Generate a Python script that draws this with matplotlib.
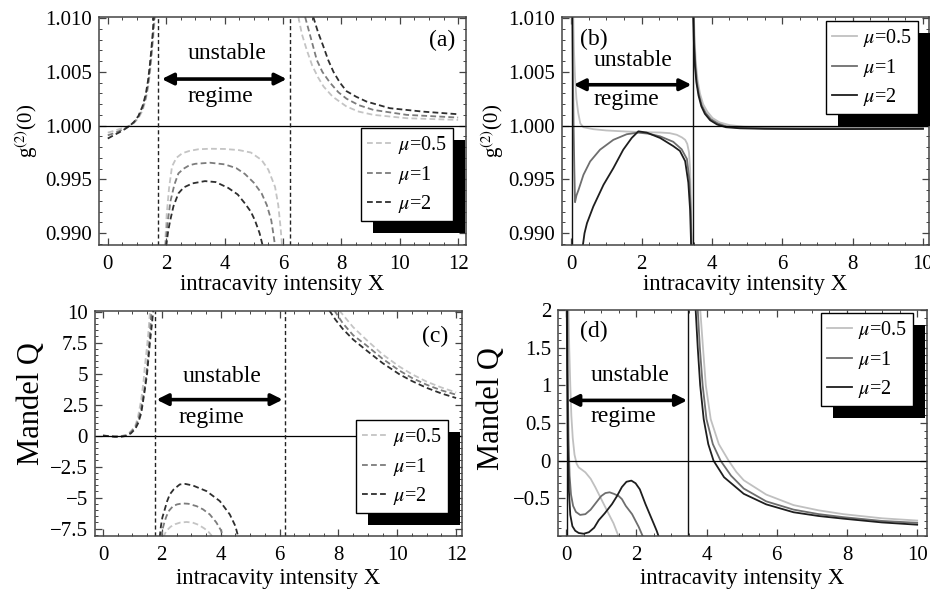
import matplotlib
matplotlib.use('Agg')
import matplotlib.pyplot as plt
from matplotlib.patches import Rectangle
from matplotlib.lines import Line2D
from matplotlib.ticker import MultipleLocator

plt.rcParams['font.family'] = ['Liberation Serif', 'DejaVu Serif']
plt.rcParams['mathtext.fontset'] = 'stix'

# ---------------- data ----------------
series_labels = [r'$\mu$=0.5', r'$\mu$=1', r'$\mu$=2']
x_label = 'intracavity intensity X'

# panel (a): g2(0), dashed curves
a05_L_x = [0.0, 0.2, 0.4, 0.6, 0.76, 0.9, 1.05, 1.19, 1.3, 1.38, 1.45, 1.5, 1.56, 1.62]
a05_L_y = [0.99935, 0.9995, 0.99968, 0.99985, 1.0, 1.00025, 1.0007, 1.0014, 1.0024, 1.0035, 1.0050, 1.0064, 1.0082, 1.0102]
a1_L_x = [0.0, 0.2, 0.4, 0.6, 0.76, 0.9, 1.05, 1.19, 1.3, 1.38, 1.45, 1.5, 1.55, 1.6]
a1_L_y = [0.9991, 0.99928, 0.9995, 0.99975, 1.0, 1.0003, 1.0008, 1.0016, 1.0026, 1.0038, 1.0054, 1.0068, 1.0085, 1.0102]
a2_L_x = [0.0, 0.2, 0.4, 0.6, 0.76, 0.9, 1.05, 1.19, 1.3, 1.38, 1.44, 1.49, 1.54, 1.58]
a2_L_y = [0.9988, 0.9991, 0.99938, 0.9997, 1.0, 1.00035, 1.0009, 1.0018, 1.0029, 1.0042, 1.0056, 1.0070, 1.0086, 1.0102]

a05_M_x = [1.96, 2.02, 2.1, 2.2, 2.35, 2.55, 2.8, 3.1, 3.5, 4.0, 4.5, 4.9, 5.27, 5.5, 5.73, 5.84, 5.92, 5.97]
a05_M_y = [0.9888, 0.9918, 0.9942, 0.9962, 0.9970, 0.99743, 0.99765, 0.9978, 0.99785, 0.99783, 0.99772, 0.9975, 0.9968, 0.9959, 0.9943, 0.9926, 0.9905, 0.9888]
a1_M_x = [1.98, 2.05, 2.15, 2.28, 2.42, 2.6, 2.8, 3.0, 3.5, 4.0, 4.4, 4.7, 5.0, 5.27, 5.45, 5.6, 5.68, 5.73]
a1_M_y = [0.9888, 0.991, 0.993, 0.9945, 0.99556, 0.996, 0.99632, 0.99645, 0.99655, 0.9964, 0.99605, 0.9955, 0.9947, 0.9937, 0.9926, 0.9912, 0.9898, 0.9888]
a2_M_x = [2.0, 2.07, 2.14, 2.25, 2.42, 2.6, 2.9, 3.33, 3.7, 4.13, 4.45, 4.7, 4.9, 5.04, 5.2, 5.31]
a2_M_y = [0.9888, 0.9902, 0.9912, 0.9925, 0.9937, 0.99425, 0.99463, 0.99484, 0.99475, 0.9942, 0.9936, 0.99276, 0.992, 0.9912, 0.99, 0.9888]

a05_R_x = [6.53, 6.65, 6.82, 7.0, 7.2, 7.39, 7.7, 8.18, 8.6, 9.1, 10.24, 12.0]
a05_R_y = [1.0101, 1.0085, 1.007, 1.0056, 1.0045, 1.00364, 1.0027, 1.00177, 1.0013, 1.001, 1.00069, 1.00053]
a1_R_x = [6.76, 6.9, 7.0, 7.16, 7.35, 7.61, 7.9, 8.18, 8.6, 9.1, 10.24, 12.0]
a1_R_y = [1.0101, 1.0087, 1.0077, 1.0061, 1.005, 1.004, 1.0031, 1.0025, 1.0019, 1.00146, 1.001, 1.00075]
a2_R_x = [7.04, 7.2, 7.38, 7.55, 7.73, 7.95, 8.18, 8.5, 8.86, 9.66, 10.8, 12.0]
a2_R_y = [1.0101, 1.0087, 1.0074, 1.0061, 1.005, 1.004, 1.0032, 1.0027, 1.00224, 1.00162, 1.0013, 1.00106]

# panel (b): g2(0), solid curves
b05_L_x = [0.06, 0.08, 0.11, 0.15, 0.2, 0.26, 0.35, 0.63, 1.0, 1.58, 2.0, 2.53, 2.8, 3.0, 3.15, 3.24, 3.3, 3.35, 3.38, 3.4, 3.42]
b05_L_y = [1.0101, 1.007, 1.0045, 1.0025, 1.0012, 1.0002, 0.99985, 0.99967, 0.99955, 0.99945, 0.9994, 0.99936, 0.9993, 0.99915, 0.9989, 0.99868, 0.9983, 0.9975, 0.996, 0.9935, 0.9888]
b1_L_x = [0.03, 0.05, 0.07, 0.09, 0.11, 0.15, 0.21, 0.35, 0.54, 0.82, 1.2, 1.58, 1.9, 2.2, 2.53, 2.9, 3.14, 3.29, 3.36, 3.4, 3.42]
b1_L_y = [1.0101, 1.005, 1.0, 0.996, 0.99288, 0.9935, 0.99403, 0.99543, 0.99667, 0.99776, 0.99868, 0.9992, 0.99935, 0.99925, 0.999, 0.9985, 0.9978, 0.9969, 0.995, 0.992, 0.9888]
b2_L_x = [0.33, 0.38, 0.45, 0.63, 0.92, 1.2, 1.48, 1.72, 1.91, 2.15, 2.53, 2.9, 3.09, 3.24, 3.33, 3.38, 3.41]
b2_L_y = [0.9888, 0.99, 0.99093, 0.99248, 0.9945, 0.99605, 0.99776, 0.99885, 0.99947, 0.99935, 0.99885, 0.9981, 0.99765, 0.9967, 0.9947, 0.9922, 0.9888]

b05_R_x = [3.49, 3.51, 3.54, 3.59, 3.66, 3.75, 3.87, 4.02, 4.22, 4.5, 4.9, 5.5, 6.5, 8.0, 10.0]
b05_R_y = [1.0101, 1.008, 1.006, 1.0043, 1.003, 1.002, 1.0013, 1.0007, 1.0003, 1.00005, 0.9999, 0.99983, 0.9998, 0.9998, 0.9998]
b1_R_x = [3.48, 3.5, 3.53, 3.57, 3.63, 3.71, 3.82, 3.97, 4.17, 4.42, 4.8, 5.5, 6.5, 8.0, 10.0]
b1_R_y = [1.0101, 1.0077, 1.0057, 1.0041, 1.0029, 1.0019, 1.0012, 1.0006, 1.0002, 0.99992, 0.9998, 0.99975, 0.99972, 0.99972, 0.99973]
b2_R_x = [3.47, 3.49, 3.52, 3.56, 3.62, 3.7, 3.8, 3.95, 4.15, 4.4, 4.8, 5.5, 6.5, 8.0, 10.0]
b2_R_y = [1.0101, 1.0075, 1.0055, 1.004, 1.0028, 1.0018, 1.0011, 1.0005, 1.0001, 0.99985, 0.99975, 0.9997, 0.99968, 0.99968, 0.9997]

# panel (c): Mandel Q, dashed curves
c05_L_x = [0.0, 0.2, 0.4, 0.6, 0.8, 0.95, 1.1, 1.19, 1.3, 1.38, 1.42, 1.48, 1.54, 1.6]
c05_L_y = [0.0, -0.03, -0.05, -0.04, 0.05, 0.35, 0.8, 1.5, 2.9, 4.4, 5.5, 6.8, 8.2, 10.1]
c1_L_x = [0.0, 0.2, 0.4, 0.6, 0.8, 0.95, 1.1, 1.2, 1.3, 1.4, 1.47, 1.53, 1.59, 1.65]
c1_L_y = [0.0, -0.04, -0.07, -0.06, 0.02, 0.28, 0.7, 1.25, 2.2, 3.6, 4.8, 6.3, 8.0, 10.1]
c2_L_x = [0.0, 0.2, 0.4, 0.6, 0.8, 0.95, 1.1, 1.19, 1.3, 1.42, 1.5, 1.54, 1.6, 1.66, 1.71]
c2_L_y = [0.0, -0.05, -0.1, -0.1, -0.02, 0.18, 0.55, 0.97, 1.8, 3.64, 5.0, 6.06, 7.6, 8.9, 10.1]

c05_M_x = [2.05, 2.15, 2.3, 2.45, 2.62, 2.84, 3.05, 3.25, 3.45, 3.6, 3.74]
c05_M_y = [-8.2, -7.7, -7.35, -7.15, -7.02, -6.97, -7.02, -7.2, -7.5, -7.8, -8.2]
c1_M_x = [1.98, 2.03, 2.1, 2.16, 2.25, 2.38, 2.52, 2.7, 2.9, 3.18, 3.4, 3.63, 3.85, 4.0, 4.1]
c1_M_y = [-8.2, -7.5, -6.9, -6.49, -6.05, -5.69, -5.55, -5.47, -5.5, -5.69, -5.95, -6.36, -7.0, -7.6, -8.2]
c2_M_x = [1.93, 1.97, 2.02, 2.1, 2.18, 2.27, 2.4, 2.61, 2.8, 3.06, 3.52, 3.97, 4.31, 4.5, 4.6]
c2_M_y = [-8.2, -7.3, -6.6, -5.96, -5.3, -4.75, -4.35, -3.94, -3.9, -4.03, -4.48, -5.28, -6.36, -7.3, -8.2]

c05_R_x = [8.03, 8.15, 8.5, 8.94, 9.5, 10.07, 10.5, 11.0, 11.5, 12.0]
c05_R_y = [10.1, 9.75, 8.75, 7.75, 6.55, 5.57, 4.95, 4.35, 3.88, 3.48]
c1_R_x = [7.86, 8.15, 8.5, 8.94, 9.5, 10.07, 10.5, 11.0, 11.5, 12.0]
c1_R_y = [10.1, 9.06, 8.1, 7.3, 6.2, 5.25, 4.65, 4.1, 3.65, 3.3]
c2_R_x = [7.69, 7.9, 8.15, 8.5, 8.94, 9.5, 10.07, 10.5, 11.0, 11.5, 12.0]
c2_R_y = [10.1, 9.35, 8.6, 7.75, 6.9, 5.85, 4.95, 4.4, 3.85, 3.4, 3.03]

# panel (d): Mandel Q, solid curves
d05_L_x = [0.07, 0.09, 0.12, 0.15, 0.19, 0.24, 0.3, 0.36, 0.45, 0.55, 0.7, 0.83, 0.97, 1.12, 1.25, 1.35, 1.45, 1.5]
d05_L_y = [2.01, 1.5, 1.0, 0.6, 0.3, 0.08, -0.04, -0.09, -0.12, -0.155, -0.24, -0.35, -0.48, -0.62, -0.74, -0.83, -0.95, -1.01]
d1_L_x = [0.03, 0.05, 0.07, 0.1, 0.14, 0.2, 0.28, 0.4, 0.55, 0.7, 0.85, 1.0, 1.12, 1.24, 1.36, 1.5, 1.59, 1.7, 1.88, 2.07, 2.19]
d1_L_y = [2.01, 1.0, 0.3, -0.2, -0.45, -0.6, -0.68, -0.72, -0.71, -0.65, -0.56, -0.47, -0.43, -0.42, -0.44, -0.47, -0.51, -0.6, -0.71, -0.88, -1.01]
d2_L_x = [0.02, 0.03, 0.05, 0.08, 0.12, 0.18, 0.26, 0.36, 0.5, 0.65, 0.8, 0.93, 1.1, 1.31, 1.45, 1.59, 1.72, 1.86, 1.98, 2.1, 2.26, 2.4, 2.5, 2.58, 2.64]
d2_L_y = [2.01, 1.2, 0.2, -0.4, -0.72, -0.87, -0.93, -0.96, -0.97, -0.95, -0.89, -0.79, -0.7, -0.575, -0.47, -0.35, -0.28, -0.265, -0.3, -0.38, -0.575, -0.73, -0.84, -0.93, -1.01]

d05_R_x = [3.82, 3.9, 3.98, 4.12, 4.35, 4.63, 4.85, 5.06, 5.7, 6.48, 7.2, 7.9, 9.0, 10.0]
d05_R_y = [2.01, 1.5, 1.0, 0.55, 0.22, 0.0, -0.15, -0.26, -0.45, -0.59, -0.66, -0.71, -0.765, -0.795]
d1_R_x = [3.75, 3.81, 3.89, 4.0, 4.18, 4.4, 4.7, 5.06, 5.7, 6.48, 7.2, 7.9, 9.0, 10.0]
d1_R_y = [2.01, 1.5, 1.0, 0.55, 0.22, 0.0, -0.2, -0.37, -0.54, -0.65, -0.71, -0.75, -0.8, -0.825]
d2_R_x = [3.69, 3.75, 3.82, 3.92, 4.05, 4.2, 4.5, 5.06, 5.7, 6.48, 7.2, 7.9, 9.0, 10.0]
d2_R_y = [2.01, 1.5, 1.0, 0.55, 0.22, 0.0, -0.22, -0.44, -0.58, -0.685, -0.735, -0.77, -0.82, -0.85]

# tick values / labels
g2_ticks = [0.990, 0.995, 1.000, 1.005, 1.010]
g2_ticklabels = ['0.990', '0.995', '1.000', '1.005', '1.010']
qc_ticks = [-7.5, -5, -2.5, 0, 2.5, 5, 7.5, 10]
qc_ticklabels = ['\u22127.5', '\u22125', '\u22122.5', '0', '2.5', '5', '7.5', '10']
qd_ticks = [-0.5, 0, 0.5, 1, 1.5, 2]
qd_ticklabels = ['\u22120.5', '0', '0.5', '1', '1.5', '2']
x12_ticks = [0, 2, 4, 6, 8, 10, 12]
x10_ticks = [0, 2, 4, 6, 8, 10]

# boundaries of unstable regime
a_bounds = [1.73, 6.24]
b_bounds = [0.02, 3.46]
c_bounds = [1.76, 6.2]
d_bounds = [0.02, 3.46]

# ---------------- styling ----------------
W, H = 930, 593
fig = plt.figure(figsize=(W / 100, H / 100), dpi=100)

grey_dash = ['#c4c4c4', '#7c7c7c', '#2e2e2e']
grey_solid = ['#c0c0c0', '#6e6e6e', '#1e1e1e']
TICK_FS = 15
LAB_FS = 16.5
G2_FS = 15
Q_FS = 22
TXT_FS = 17


def make_axes(l, r, t, b):
    return fig.add_axes([l / W, 1 - b / H, (r - l) / W, (b - t) / H])


def style_axes(ax, xlim, ylim, xticks, yticks, yticklabels, xminor, yminor):
    ax.set_xlim(*xlim)
    ax.set_ylim(*ylim)
    ax.set_xticks(xticks)
    ax.set_xticklabels([str(v) for v in xticks])
    ax.set_yticks(yticks)
    ax.set_yticklabels(yticklabels)
    ax.xaxis.set_minor_locator(MultipleLocator(xminor))
    ax.yaxis.set_minor_locator(MultipleLocator(yminor))
    ax.tick_params(which='both', direction='in', top=True, right=True,
                   color='#444444', labelsize=TICK_FS)
    ax.tick_params(which='major', length=5, width=0.9)
    ax.tick_params(which='minor', length=2.5, width=0.7)
    ax.tick_params(axis='x', pad=7)
    ax.tick_params(axis='y', pad=5)
    for s in ax.spines.values():
        s.set_color('#444444')
        s.set_linewidth(1.1)
    ax.set_xlabel(x_label, fontsize=LAB_FS)


def add_legend(ax, handles, x0, y0):
    leg = ax.legend(handles=handles, labels=series_labels, loc='upper left',
                    bbox_to_anchor=(x0 / W, 1 - y0 / H),
                    bbox_transform=fig.transFigure, borderaxespad=0,
                    fontsize=14.5, handlelength=1.25, handletextpad=0.3,
                    labelspacing=0.38, borderpad=0.3, fancybox=False,
                    framealpha=1, edgecolor='black')
    leg.get_frame().set_linewidth(1.0)
    leg.set_zorder(6)
    return leg


def add_shadow(ax, leg, dx=12, dy=12):
    fig.canvas.draw()
    bb = leg.get_window_extent()
    rect = Rectangle(((bb.x0 + dx) / W, (bb.y0 - dy) / H), bb.width / W, bb.height / H,
                     transform=fig.transFigure, facecolor='black', edgecolor='none',
                     zorder=5.5, clip_on=False)
    ax.add_artist(rect)


def arrow(ax, x0, x1, y):
    ax.annotate('', xy=(x1, y), xytext=(x0, y),
                arrowprops=dict(arrowstyle='<|-|>', lw=2.6, color='black',
                                mutation_scale=17, shrinkA=0, shrinkB=0))


dash = (0, (3.2, 1.8))

# ---------- panel (a) ----------
axa = make_axes(99, 466, 17, 245)
a_series = [
    [(a05_L_x, a05_L_y), (a05_M_x, a05_M_y), (a05_R_x, a05_R_y)],
    [(a1_L_x, a1_L_y), (a1_M_x, a1_M_y), (a1_R_x, a1_R_y)],
    [(a2_L_x, a2_L_y), (a2_M_x, a2_M_y), (a2_R_x, a2_R_y)],
]
handles = []
for i, branches in enumerate(a_series):
    for bx, by in branches:
        axa.plot(bx, by, color=grey_dash[i], lw=1.3, ls=dash)
    handles.append(Line2D([], [], color=grey_dash[i], lw=1.3, ls=dash))
axa.axhline(1.0, color='black', lw=0.9)
for xb in a_bounds:
    axa.axvline(xb, color='#222222', lw=1.0, ls=(0, (3, 2)))
style_axes(axa, (-0.3, 12.27), (0.9889, 1.0101), x12_ticks, g2_ticks, g2_ticklabels, 0.5, 0.001)
axa.set_ylabel(r'g$^{(2)}$(0)', fontsize=G2_FS)
arrow(axa, 1.85, 6.13, 1.00433)
axa.text(4.07, 1.0067, 'unstable', fontsize=TXT_FS, ha='center', va='center')
axa.text(3.85, 1.0027, 'regime', fontsize=TXT_FS, ha='center', va='center')
axa.text(11.44, 1.0079, '(a)', fontsize=TXT_FS, ha='center', va='center')
leg_a = add_legend(axa, handles, 361, 128)

# ---------- panel (b) ----------
axb = make_axes(562, 929, 17, 245)
b_series = [
    [(b05_L_x, b05_L_y), (b05_R_x, b05_R_y)],
    [(b1_L_x, b1_L_y), (b1_R_x, b1_R_y)],
    [(b2_L_x, b2_L_y), (b2_R_x, b2_R_y)],
]
handles = []
for i, branches in enumerate(b_series):
    for bx, by in branches:
        axb.plot(bx, by, color=grey_solid[i], lw=1.3)
    handles.append(Line2D([], [], color=grey_solid[i], lw=1.3))
axb.axhline(1.0, color='black', lw=0.9)
for xb in b_bounds:
    axb.axvline(xb, color='#111111', lw=1.0)
style_axes(axb, (-0.26, 10.17), (0.9889, 1.0101), x10_ticks, g2_ticks, g2_ticklabels, 0.5, 0.001)
axb.set_ylabel(r'g$^{(2)}$(0)', fontsize=G2_FS)
arrow(axb, 0.07, 3.42, 1.0038)
axb.text(1.77, 1.0061, 'unstable', fontsize=TXT_FS, ha='center', va='center')
axb.text(1.58, 1.0024, 'regime', fontsize=TXT_FS, ha='center', va='center')
axb.text(0.63, 1.0080, '(b)', fontsize=TXT_FS, ha='center', va='center')
leg_b = add_legend(axb, handles, 826, 21)

# ---------- panel (c) ----------
axc = make_axes(95, 462, 311, 536)
c_series = [
    [(c05_L_x, c05_L_y), (c05_M_x, c05_M_y), (c05_R_x, c05_R_y)],
    [(c1_L_x, c1_L_y), (c1_M_x, c1_M_y), (c1_R_x, c1_R_y)],
    [(c2_L_x, c2_L_y), (c2_M_x, c2_M_y), (c2_R_x, c2_R_y)],
]
handles = []
for i, branches in enumerate(c_series):
    for bx, by in branches:
        axc.plot(bx, by, color=grey_dash[i], lw=1.3, ls=dash)
    handles.append(Line2D([], [], color=grey_dash[i], lw=1.3, ls=dash))
axc.axhline(0.0, color='black', lw=0.9)
for xb in c_bounds:
    axc.axvline(xb, color='#222222', lw=1.0, ls=(0, (3, 2)))
style_axes(axc, (-0.27, 12.2), (-8.1, 10.05), x12_ticks, qc_ticks, qc_ticklabels, 0.5, 0.5)
axc.set_ylabel('Mandel Q', fontsize=Q_FS)
arrow(axc, 1.82, 6.11, 2.9)
axc.text(4.05, 4.77, 'unstable', fontsize=TXT_FS, ha='center', va='center')
axc.text(3.68, 1.42, 'regime', fontsize=TXT_FS, ha='center', va='center')
axc.text(11.3, 8.0, '(c)', fontsize=TXT_FS, ha='center', va='center')
leg_c = add_legend(axc, handles, 356, 420)

# ---------- panel (d) ----------
axd = make_axes(558, 927, 310, 536)
d_series = [
    [(d05_L_x, d05_L_y), (d05_R_x, d05_R_y)],
    [(d1_L_x, d1_L_y), (d1_R_x, d1_R_y)],
    [(d2_L_x, d2_L_y), (d2_R_x, d2_R_y)],
]
handles = []
for i, branches in enumerate(d_series):
    for bx, by in branches:
        axd.plot(bx, by, color=grey_solid[i], lw=1.3)
    handles.append(Line2D([], [], color=grey_solid[i], lw=1.3))
axd.axhline(0.0, color='black', lw=0.9)
for xb in d_bounds:
    axd.axvline(xb, color='#111111', lw=1.0)
style_axes(axd, (-0.23, 10.28), (-1.0, 2.0), x10_ticks, qd_ticks, qd_ticklabels, 0.5, 0.1)
axd.set_ylabel('Mandel Q', fontsize=Q_FS)
arrow(axd, 0.03, 3.45, 0.80)
axd.text(1.83, 1.13, 'unstable', fontsize=TXT_FS, ha='center', va='center')
axd.text(1.64, 0.58, 'regime', fontsize=TXT_FS, ha='center', va='center')
axd.text(0.79, 1.71, '(d)', fontsize=TXT_FS, ha='center', va='center')
leg_d = add_legend(axd, handles, 821, 313)

# axis label placement (axes fraction)
for ax, ylx, yly in [(axa, -0.196, 0.5), (axb, -0.19, 0.5), (axc, -0.172, 0.587), (axd, -0.179, 0.562)]:
    ax.yaxis.set_label_coords(ylx, yly)
    ax.yaxis.label.set_verticalalignment('center')
for ax, xly in [(axa, -0.175), (axb, -0.175), (axc, -0.191), (axd, -0.19)]:
    ax.xaxis.set_label_coords(0.5, xly)
    ax.xaxis.label.set_verticalalignment('center')

for ax, leg in [(axa, leg_a), (axb, leg_b), (axc, leg_c), (axd, leg_d)]:
    add_shadow(ax, leg)

fig.savefig('out.png', dpi=100, facecolor='white')
